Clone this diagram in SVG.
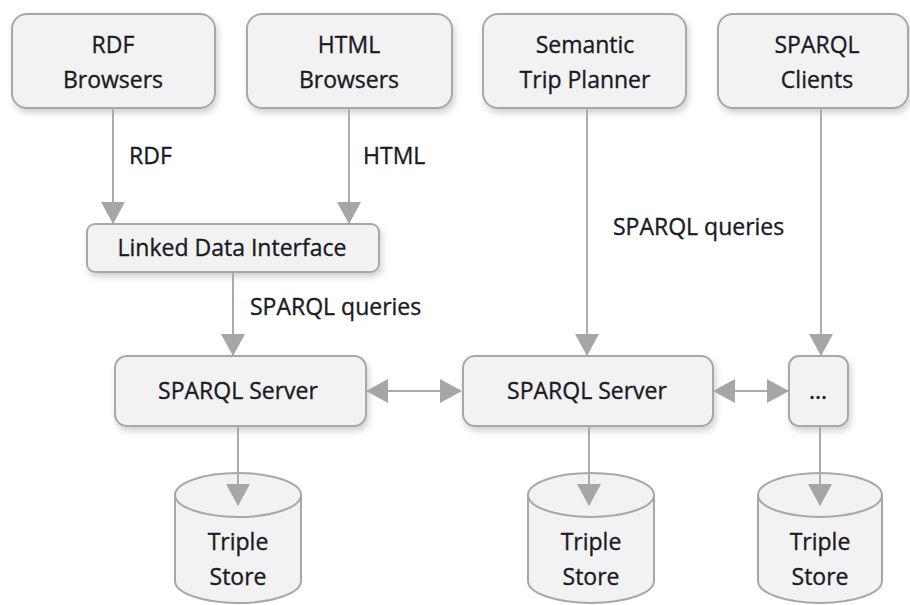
<svg xmlns="http://www.w3.org/2000/svg" width="910" height="605" viewBox="0 0 910 605">
<style>
.box{fill:#f2f2f2;stroke:#a8a8a8;stroke-width:2}
.t{font-family:"Open Sans","Noto Sans","DejaVu Sans",sans-serif;font-size:23px;fill:#1a1a26;stroke:#1a1a26;stroke-width:0.35;text-anchor:middle}
.lbl{font-family:"Open Sans","Noto Sans","DejaVu Sans",sans-serif;font-size:23px;fill:#1a1a26;stroke:#1a1a26;stroke-width:0.35}
.c{stroke:#ababab;stroke-width:2;fill:none}
</style>
<defs>
<filter id="sh" x="-10%" y="-10%" width="125%" height="140%">
<feDropShadow dx="2" dy="4" stdDeviation="3" flood-color="#000" flood-opacity="0.18"/>
</filter>
<marker id="ah" markerUnits="userSpaceOnUse" markerWidth="22" markerHeight="24" refX="21" refY="12" orient="auto-start-reverse" viewBox="0 0 22 24">
<path d="M0,0 L22,12 L0,24 Z" fill="#a6a6a6"/>
</marker>
</defs>
<g id="rdf-browsers">
<rect class="box" x="12" y="14" width="203" height="94" rx="15" filter="url(#sh)"/>
<text class="t" x="113" y="53">RDF</text>
<text class="t" x="113" y="88">Browsers</text>
</g>
<g id="html-browsers">
<rect class="box" x="247" y="14" width="205" height="94" rx="15" filter="url(#sh)"/>
<text class="t" x="349" y="53">HTML</text>
<text class="t" x="349" y="88">Browsers</text>
</g>
<g id="trip-planner">
<rect class="box" x="483" y="14" width="203" height="94" rx="15" filter="url(#sh)"/>
<text class="t" x="585" y="53">Semantic</text>
<text class="t" x="585" y="88">Trip Planner</text>
</g>
<g id="sparql-clients">
<rect class="box" x="718" y="14" width="190" height="94" rx="15" filter="url(#sh)"/>
<text class="t" x="817" y="53">SPARQL</text>
<text class="t" x="817" y="88">Clients</text>
</g>
<g id="linked-data-interface">
<rect class="box" x="87" y="224" width="292" height="48" rx="8" filter="url(#sh)"/>
<text class="t" x="232" y="256">Linked  Data Interface</text>
</g>
<g id="sparql-server-1">
<rect class="box" x="115" y="356" width="251" height="70" rx="12" filter="url(#sh)"/>
<text class="t" x="238" y="399">SPARQL  Server</text>
</g>
<g id="sparql-server-2">
<rect class="box" x="463" y="356" width="250" height="70" rx="12" filter="url(#sh)"/>
<text class="t" x="587" y="399">SPARQL  Server</text>
</g>
<g id="more">
<rect class="box" x="789" y="356" width="59" height="70" rx="10" filter="url(#sh)"/>
<text class="t" x="818" y="399">...</text>
</g>
<g id="triple-store-1">
<path class="box" d="M175,495 A63,22 0 0 1 301,495 L301,581 A63,22 0 0 1 175,581 Z"/>
<path class="box" d="M175,495 A63,22 0 0 0 301,495" fill="none"/>
<text class="t" x="238" y="550">Triple</text>
<text class="t" x="238" y="585">Store</text>
</g>
<g id="triple-store-2">
<path class="box" d="M528,495 A63,22 0 0 1 654,495 L654,581 A63,22 0 0 1 528,581 Z"/>
<path class="box" d="M528,495 A63,22 0 0 0 654,495" fill="none"/>
<text class="t" x="591" y="550">Triple</text>
<text class="t" x="591" y="585">Store</text>
</g>
<g id="triple-store-3">
<path class="box" d="M758,495 A62,22 0 0 1 882,495 L882,581 A62,22 0 0 1 758,581 Z"/>
<path class="box" d="M758,495 A62,22 0 0 0 882,495" fill="none"/>
<text class="t" x="820" y="550">Triple</text>
<text class="t" x="820" y="585">Store</text>
</g>
<g id="connectors">
<line class="c" x1="113" y1="108" x2="113" y2="223" marker-end="url(#ah)"/>
<line class="c" x1="349" y1="108" x2="349" y2="223" marker-end="url(#ah)"/>
<line class="c" x1="233" y1="273" x2="233" y2="355" marker-end="url(#ah)"/>
<line class="c" x1="587" y1="108" x2="587" y2="355" marker-end="url(#ah)"/>
<line class="c" x1="821" y1="108" x2="821" y2="355" marker-end="url(#ah)"/>
<line class="c" x1="367" y1="391" x2="461" y2="391" marker-start="url(#ah)" marker-end="url(#ah)"/>
<line class="c" x1="714" y1="391" x2="788" y2="391" marker-start="url(#ah)" marker-end="url(#ah)"/>
<line class="c" x1="238" y1="427" x2="238" y2="505" marker-end="url(#ah)"/>
<line class="c" x1="589" y1="427" x2="589" y2="505" marker-end="url(#ah)"/>
<line class="c" x1="820" y1="427" x2="820" y2="505" marker-end="url(#ah)"/>
<text class="lbl" x="129" y="164">RDF</text>
<text class="lbl" x="363" y="164">HTML</text>
<text class="lbl" x="250" y="315">SPARQL  queries</text>
<text class="lbl" x="613" y="235">SPARQL  queries</text>
</g>
</svg>
